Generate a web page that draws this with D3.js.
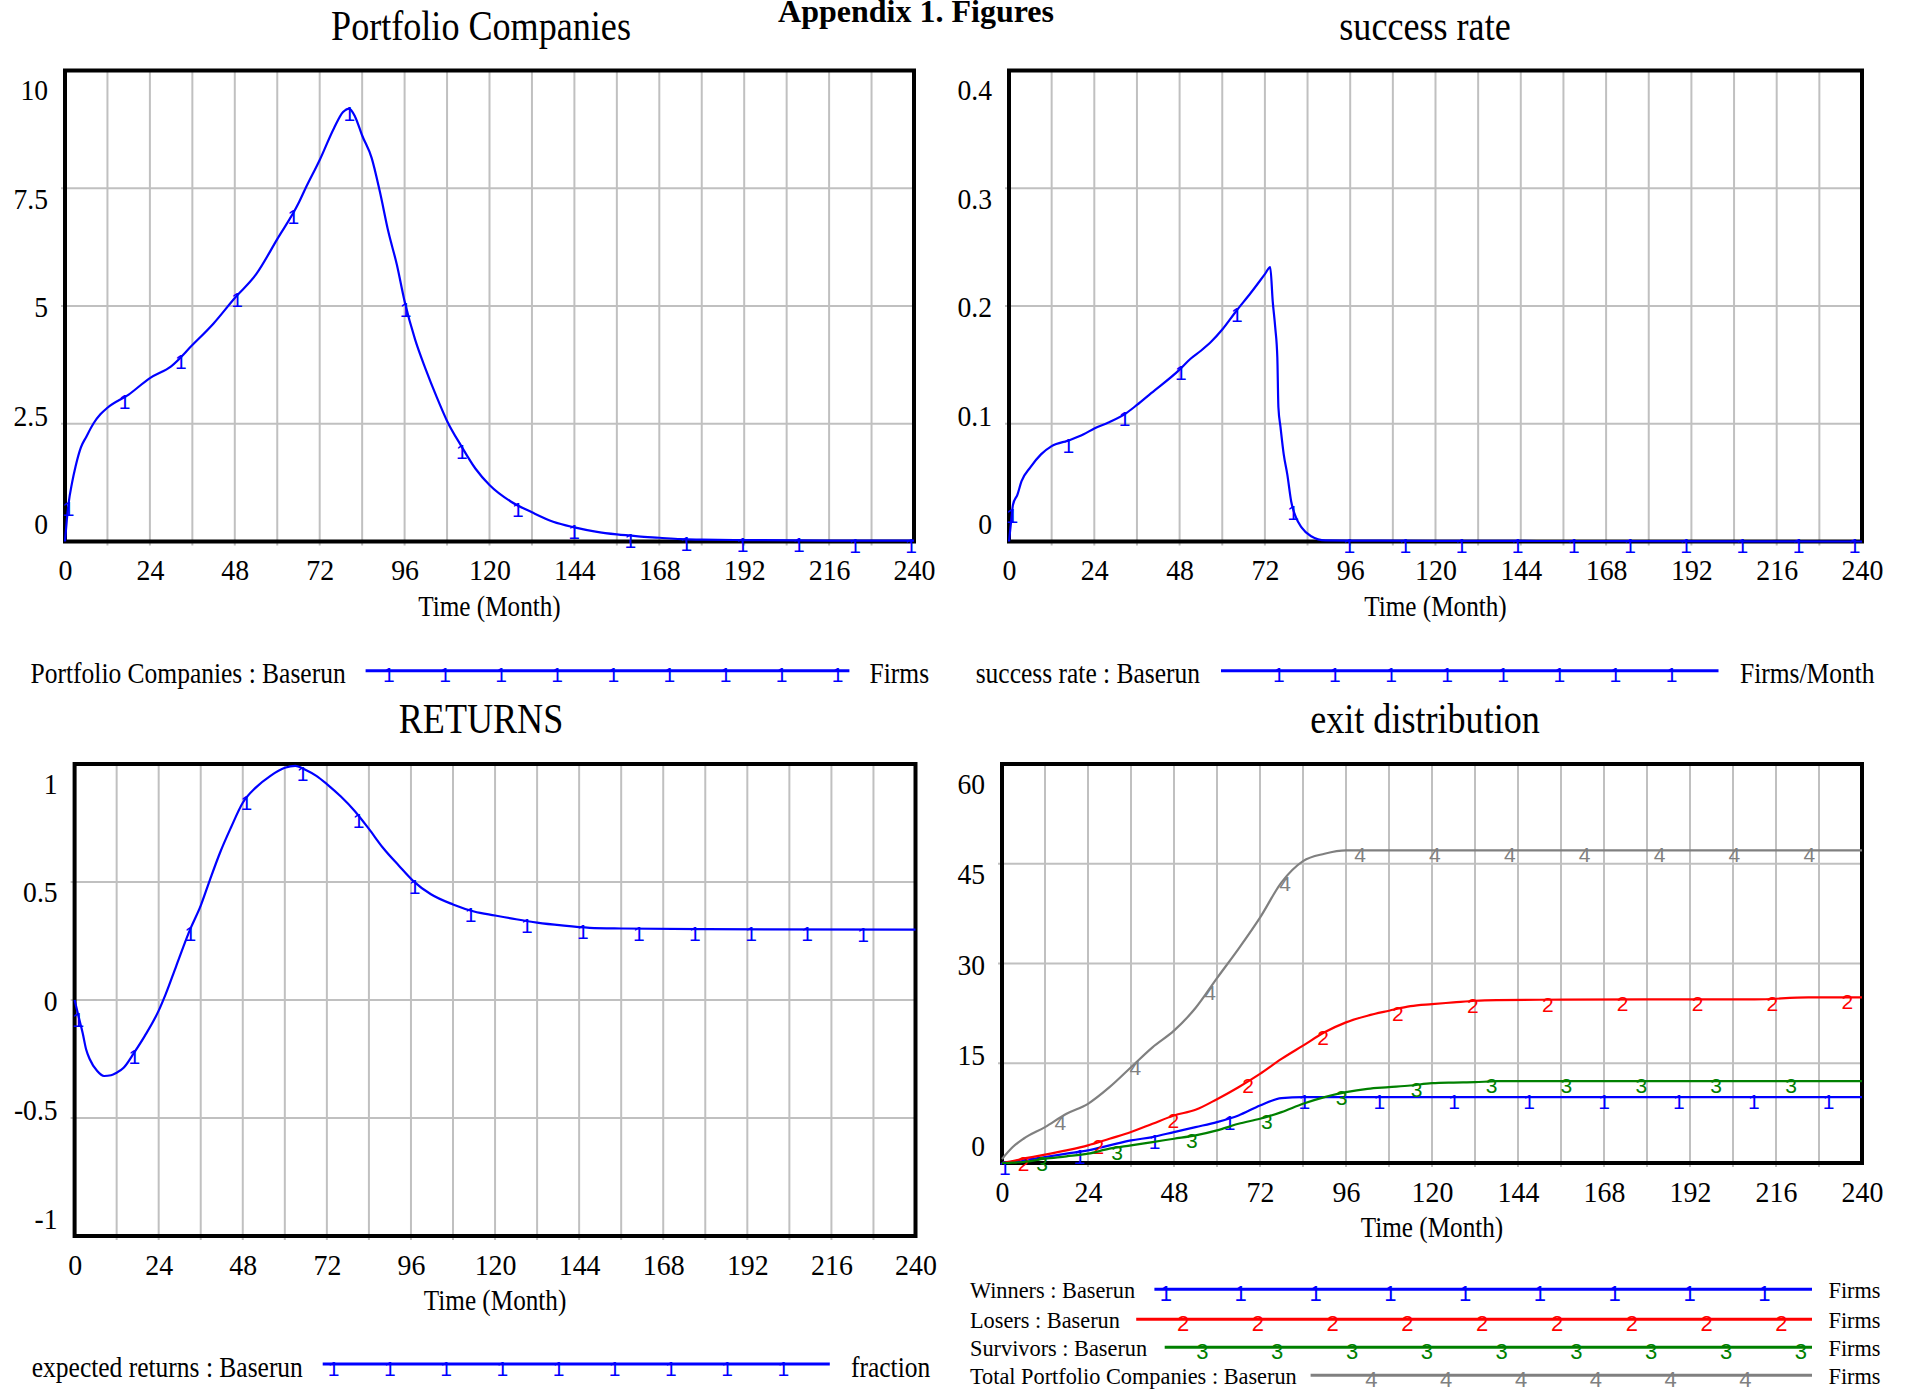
<!DOCTYPE html>
<html>
<head>
<meta charset="utf-8">
<script src="https://cdn.jsdelivr.net/npm/d3@7"></script>
<style>
  body { margin: 0; background: #fff; }
  svg { display: block; }
  text { font-family: "Liberation Serif", "Times New Roman", serif; fill: #000; }
  text.mark { font-family: "Liberation Sans", Arial, sans-serif; }
</style>
</head>
<body>
<svg id="chart" width="1908" height="1392"></svg>
<script>
// ---- data (Vensim "Baserun") ----
const monthTicks = [0, 24, 48, 72, 96, 120, 144, 168, 192, 216, 240];

const pcTicks = [0, 2.5, 5, 7.5, 10];
const pcMonths = [0, 0.5, 1, 2, 3, 4.5, 6, 8, 10, 12, 18, 24, 30, 36, 42, 48, 54, 60, 66, 68, 72, 76, 78.6, 80.3,
  82, 84, 86.7, 89, 91.4, 93.8, 96, 99, 102, 105, 108, 112, 116, 120, 126, 132, 138, 144, 150, 156, 162, 168, 174,
  180, 192, 216, 240];
const portfolioCompanies = [0, 0.45, 0.8, 1.25, 1.6, 2.0, 2.22, 2.5, 2.7, 2.84, 3.12, 3.47, 3.72, 4.17, 4.63,
  5.17, 5.67, 6.42, 7.18, 7.5, 8.1, 8.77, 9.12, 9.19, 9.02, 8.62, 8.14, 7.43, 6.58, 5.88, 5.1, 4.28, 3.65, 3.08,
  2.56, 2.03, 1.55, 1.2, 0.85, 0.62, 0.42, 0.3, 0.21, 0.15, 0.11, 0.08, 0.05, 0.04, 0.03, 0.02, 0.02];

const srTicks = [0, 0.1, 0.2, 0.3, 0.4];
const srMonths = [0, 0.7, 1.1, 2.4, 3.5, 6, 9, 12, 17, 21, 24, 28, 33, 36, 40, 48, 51, 54, 57, 60, 64, 68, 72,
  73.5, 74.2, 74.9, 75.5, 75.8, 76.4, 77.3, 78.3, 79.4, 80.8, 82.3, 85, 89, 96, 120, 180, 240];
const successRate = [0, 0.02, 0.031, 0.04, 0.051, 0.063, 0.074, 0.081, 0.086, 0.091, 0.096, 0.101, 0.109, 0.116,
  0.126, 0.146, 0.155, 0.162, 0.17, 0.18, 0.196, 0.211, 0.227, 0.233, 0.204, 0.182, 0.156, 0.114, 0.097, 0.074,
  0.057, 0.034, 0.02, 0.012, 0.0045, 0.001, 0.0008, 0.0006, 0.0003, 0];

const erTicks = [-1, -0.5, 0, 0.5, 1];
const erMonths = [0, 1.3, 2.3, 3.3, 4.3, 6.4, 8.4, 10.4, 12, 14, 17, 20, 24, 26, 29, 33, 36, 38.5, 41.5, 44.6, 48,
  51.7, 55.8, 60, 63, 66, 69, 72, 76, 80, 84, 88, 92.5, 96.6, 101.7, 108, 114, 120, 126, 132, 139, 147, 156, 180, 240];
const expectedReturns = [0, -0.08, -0.14, -0.21, -0.25, -0.3, -0.322, -0.319, -0.308, -0.287, -0.223, -0.153,
  -0.045, 0.025, 0.144, 0.3, 0.4, 0.504, 0.624, 0.73, 0.836, 0.9, 0.949, 0.984, 0.992, 0.975, 0.95, 0.915, 0.862,
  0.8, 0.725, 0.645, 0.57, 0.505, 0.448, 0.405, 0.375, 0.358, 0.342, 0.328, 0.316, 0.306, 0.303, 0.3, 0.298];

const exitTicks = [0, 15, 30, 45, 60];
const exitMonths = [0, 3, 6, 12, 18, 24, 30, 36, 42, 48, 54, 60, 66, 72, 78, 84, 90, 96, 102, 108, 114, 120, 126,
  132, 138, 150, 180, 210, 225, 240];
const winners = [0, 0.2, 0.4, 0.9, 1.4, 1.9, 2.65, 3.4, 3.9, 4.65, 5.4, 6.15, 7.15, 8.65, 9.75, 9.9, 9.9, 9.9,
  9.9, 9.9, 9.9, 9.9, 9.9, 9.9, 9.9, 9.9, 9.9, 9.9, 9.9, 9.9];
const losers = [0, 0.3, 0.65, 1.25, 1.9, 2.65, 3.65, 4.65, 5.9, 7.15, 8.0, 9.6, 11.4, 13.4, 15.65, 17.65, 19.65,
  21.15, 22.15, 22.9, 23.6, 23.9, 24.15, 24.4, 24.5, 24.55, 24.6, 24.6, 24.9, 24.9];
const survivors = [0, 0.05, 0.15, 0.65, 1.0, 1.4, 2.15, 2.65, 3.15, 3.65, 4.15, 4.9, 5.9, 6.65, 7.65, 8.9, 9.9,
  10.65, 11.15, 11.4, 11.65, 12.0, 12.1, 12.15, 12.3, 12.3, 12.3, 12.3, 12.3, 12.3];
const totalPortfolio = [0.6, 2.4, 3.65, 5.4, 7.4, 8.9, 11.4, 14.4, 17.4, 19.9, 23.3, 27.8, 32.2, 36.9, 42.2, 45.4,
  46.5, 47, 47, 47, 47, 47, 47, 47, 47, 47, 47, 47, 47, 47];

const BLUE = '#0000ff', RED = '#ff0000', GREEN = '#008000', GRAY = '#808080';

const panels = [
  {
    title: 'Portfolio Companies', titleX: 481, left: 65, right: 914, top: 70.5, bottom: 541.5,
    yDomain: [0, 10], yTicks: pcTicks,
    series: [{ months: pcMonths, values: portfolioCompanies, color: BLUE, mark: '1', first: 1, step: 15.88 }],
    legend: { textX: 30.6, size: 30, sx: 0.85, textDy: 12.6, unitX: 869.6, markSize: 21, step: 56.1, rows: [
      { label: 'Portfolio Companies : Baserun', unit: 'Firms', color: BLUE, mark: '1', y: 670.7, x0: 365.6, x1: 849.4, m0: 388.9 }
    ] }
  },
  {
    title: 'success rate', titleX: 1425, left: 1009, right: 1862, top: 70.5, bottom: 541.5,
    yDomain: [0, 0.4], yTicks: srTicks,
    series: [{ months: srMonths, values: successRate, color: BLUE, mark: '1', first: 0.93, step: 15.8 }],
    legend: { textX: 975.7, size: 30, sx: 0.85, textDy: 12.6, unitX: 1740, markSize: 21, step: 56.1, rows: [
      { label: 'success rate : Baserun', unit: 'Firms/Month', color: BLUE, mark: '1', y: 670.7, x0: 1221, x1: 1718.5, m0: 1278.8 }
    ] }
  },
  {
    title: 'RETURNS', titleX: 481, left: 74.6, right: 915.5, top: 764, bottom: 1236,
    yDomain: [-1, 1], yTicks: erTicks,
    series: [{ months: erMonths, values: expectedReturns, color: BLUE, mark: '1', first: 1.05, step: 16.0 }],
    legend: { textX: 31.8, size: 30, sx: 0.85, textDy: 12.6, unitX: 851, markSize: 21, step: 56.2, rows: [
      { label: 'expected returns : Baserun', unit: 'fraction', color: BLUE, mark: '1', y: 1364, x0: 322.7, x1: 829.8, m0: 333.7 }
    ] }
  },
  {
    title: 'exit distribution', titleX: 1425, left: 1002, right: 1862, top: 764, bottom: 1163,
    yDomain: [0, 60], yTicks: exitTicks,
    series: [
      { months: exitMonths, values: winners, color: BLUE, mark: '1', first: 0.8, step: 20.9 },
      { months: exitMonths, values: losers, color: RED, mark: '2', first: 6.0, step: 20.9 },
      { months: exitMonths, values: survivors, color: GREEN, mark: '3', first: 11.2, step: 20.9 },
      { months: exitMonths, values: totalPortfolio, color: GRAY, mark: '4', first: 16.3, step: 20.9 }
    ],
    legend: { textX: 970, size: 24, sx: 0.93, textDy: 9, unitX: 1828.5, markSize: 22, step: 74.8, rows: [
      { label: 'Winners : Baserun', unit: 'Firms', color: BLUE, mark: '1', y: 1289.3, x0: 1154.4, x1: 1812, m0: 1165.9 },
      { label: 'Losers : Baserun', unit: 'Firms', color: RED, mark: '2', y: 1319.3, x0: 1136.2, x1: 1812, m0: 1183 },
      { label: 'Survivors : Baserun', unit: 'Firms', color: GREEN, mark: '3', y: 1347.3, x0: 1164.7, x1: 1812, m0: 1202.4 },
      { label: 'Total Portfolio Companies : Baserun', unit: 'Firms', color: GRAY, mark: '4', y: 1375.2, x0: 1310.6, x1: 1812, m0: 1371.4 }
    ] }
  }
];

const svg = d3.select('#chart');

// Vensim text comes out horizontally squeezed, so scale x only
function squeezed(g, x, y, str, size, sx, anchor) {
  return g.append('text')
    .attr('transform', `translate(${x},${y}) scale(${sx},1)`)
    .attr('text-anchor', anchor)
    .style('font-size', size + 'px')
    .text(str);
}

function valueAt(months, values, t) {
  const i = d3.bisectRight(months, t);
  if (i <= 0) return values[0];
  if (i >= months.length) return values[values.length - 1];
  const f = (t - months[i - 1]) / (months[i] - months[i - 1]);
  return values[i - 1] + f * (values[i] - values[i - 1]);
}

// page heading (its top is cut off in the source page)
svg.append('text')
  .attr('x', 916).attr('y', 22)
  .attr('text-anchor', 'middle')
  .style('font-size', '32px').style('font-weight', 'bold')
  .text('Appendix 1. Figures');

panels.forEach(p => {
  const x = d3.scaleLinear().domain([0, 240]).range([p.left, p.right]);
  const y = d3.scaleLinear().domain(p.yDomain).range([p.bottom, p.top]);
  const g = svg.append('g');

  // Grid
  g.append('g').selectAll('line')
    .data(d3.range(12, 240, 12))
    .join('line')
    .attr('x1', d => x(d)).attr('x2', d => x(d))
    .attr('y1', p.top).attr('y2', p.bottom + 4)
    .attr('stroke', '#c0c0c0').attr('stroke-width', 2);
  g.append('g').selectAll('line')
    .data(p.yTicks.slice(1, -1))
    .join('line')
    .attr('x1', p.left - 4).attr('x2', p.right)
    .attr('y1', d => y(d)).attr('y2', d => y(d))
    .attr('stroke', '#c0c0c0').attr('stroke-width', 2);

  // Frame
  g.append('rect')
    .attr('x', p.left).attr('y', p.top)
    .attr('width', p.right - p.left).attr('height', p.bottom - p.top)
    .attr('fill', 'none').attr('stroke', '#000').attr('stroke-width', 4);

  // X axis labels
  const xAxis = g.append('g')
    .attr('transform', `translate(0,${p.bottom})`)
    .call(d3.axisBottom(x).tickValues(monthTicks).tickSize(0).tickFormat(d => String(d)));
  xAxis.select('.domain').remove();
  xAxis.attr('font-family', null).attr('font-size', null);
  xAxis.selectAll('text')
    .attr('y', 39).attr('dy', 0)
    .attr('transform', 'scale(0.93,1)')
    .style('font-size', '30px').attr('fill', '#000');

  // Y axis labels: Vensim spreads them inside the frame range
  const yLab = y.copy().range([p.bottom - 18.5, p.top + 18.5]);
  const yAxis = g.append('g')
    .attr('transform', `translate(${p.left},0)`)
    .call(d3.axisLeft(yLab).tickValues(p.yTicks).tickSize(0).tickPadding(18.5).tickFormat(d => String(d)));
  yAxis.select('.domain').remove();
  yAxis.attr('font-family', null).attr('font-size', null);
  yAxis.selectAll('text')
    .attr('dy', '0.35em')
    .attr('transform', 'scale(0.92,1)')
    .style('font-size', '30px').attr('fill', '#000');

  // Titles
  squeezed(g, p.titleX, p.top - 31, p.title, 42, 0.86, 'middle');
  squeezed(g, (p.left + p.right) / 2, p.bottom + 74, 'Time (Month)', 30, 0.84, 'middle');

  // Lines
  const line = d3.line().x(d => x(d[0])).y(d => y(d[1])).curve(d3.curveMonotoneX);
  p.series.forEach(s => {
    g.append('path')
      .datum(d3.zip(s.months, s.values))
      .attr('d', line)
      .attr('fill', 'none').attr('stroke', s.color).attr('stroke-width', 2.2);
    g.append('g').selectAll('text')
      .data(d3.range(s.first, 240.01, s.step))
      .join('text')
      .attr('class', 'mark')
      .attr('x', t => x(t))
      .attr('y', t => y(valueAt(s.months, s.values, t)) + 12)
      .attr('text-anchor', 'middle')
      .style('font-family', '"Liberation Sans", Arial, sans-serif')
      .style('font-size', '21px')
      .style('fill', s.color)
      .text(s.mark);
  });

  // Legend
  const L = p.legend;
  L.rows.forEach(r => {
    squeezed(g, L.textX, r.y + L.textDy, r.label, L.size, L.sx, 'start');
    squeezed(g, L.unitX, r.y + L.textDy, r.unit, L.size, L.sx, 'start');
    g.append('line')
      .attr('x1', r.x0).attr('x2', r.x1).attr('y1', r.y).attr('y2', r.y)
      .attr('stroke', r.color).attr('stroke-width', 3);
    g.append('g').selectAll('text')
      .data(d3.range(r.m0, r.x1 + 0.01, L.step))
      .join('text')
      .attr('class', 'mark')
      .attr('x', d => d).attr('y', r.y + 11.5)
      .attr('text-anchor', 'middle')
      .style('font-family', '"Liberation Sans", Arial, sans-serif')
      .style('font-size', L.markSize + 'px')
      .style('fill', r.color)
      .text(r.mark);
  });
});
</script>
</body>
</html>
